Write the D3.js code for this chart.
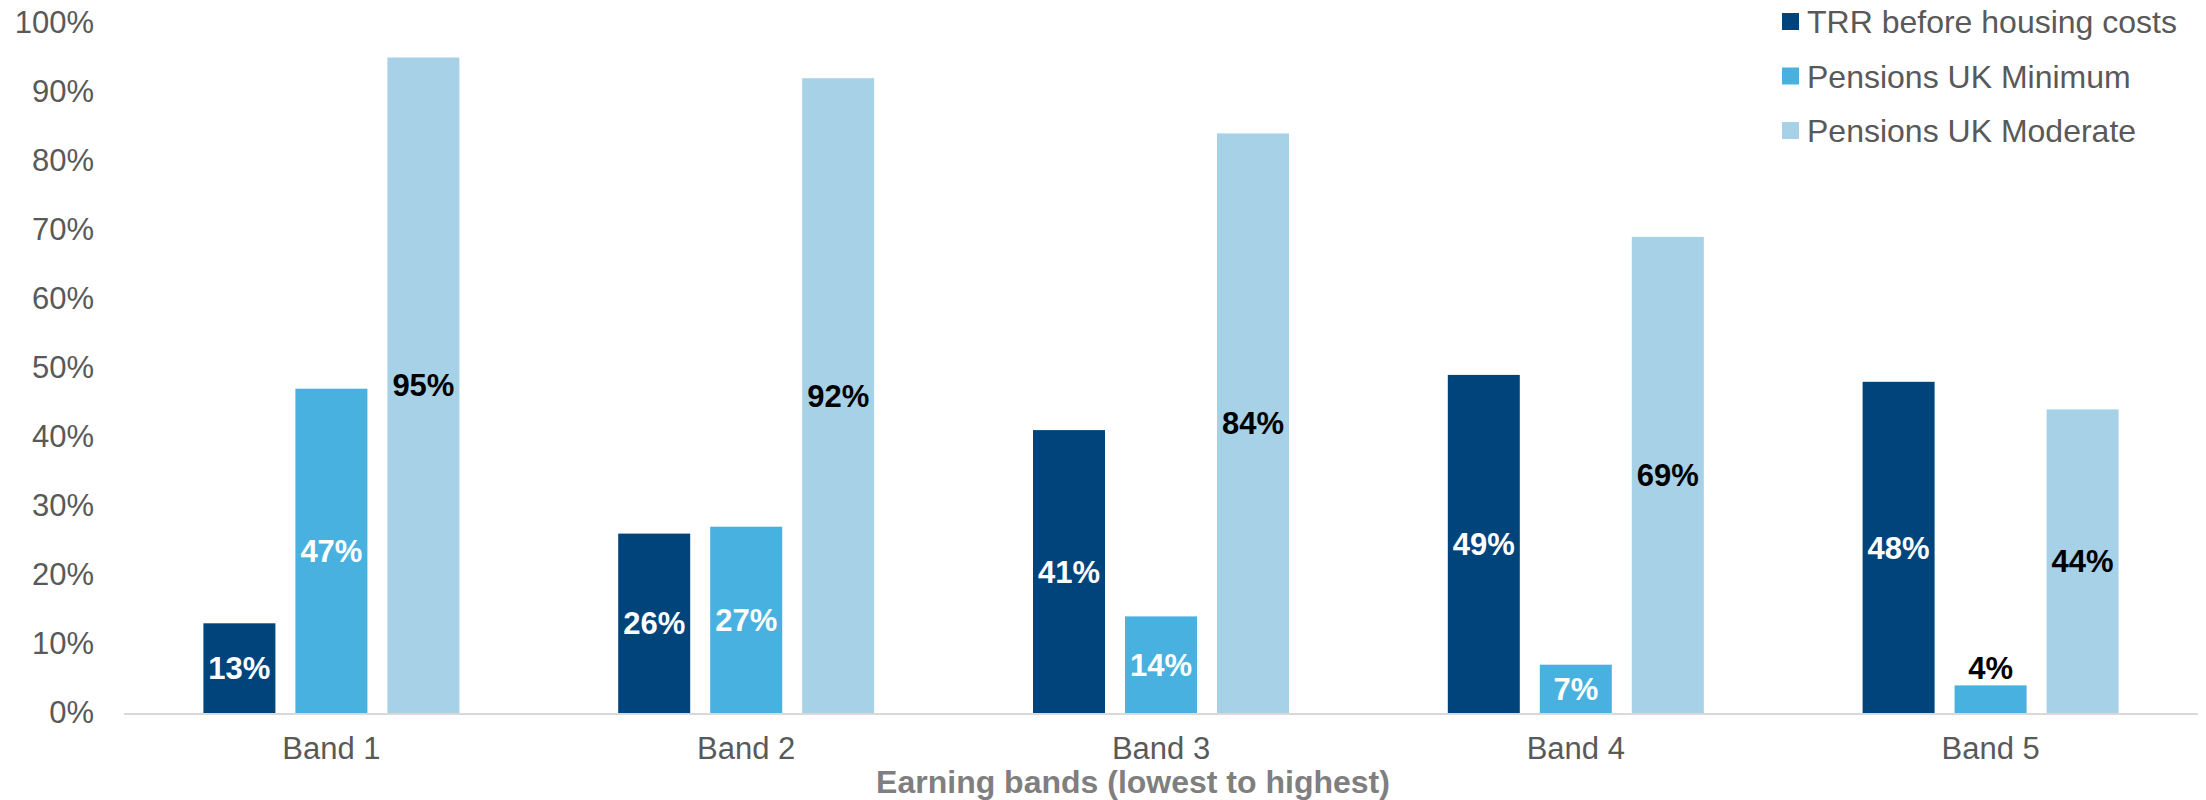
<!DOCTYPE html>
<html>
<head>
<meta charset="utf-8">
<script src="https://cdn.jsdelivr.net/npm/d3@7"></script>
<style>
  html, body { margin: 0; padding: 0; background: #fff; }
  svg { display: block; font-family: "Liberation Sans", Arial, sans-serif; }
</style>
</head>
<body>
<svg id="chart" width="2206" height="800"></svg>
<script>
// Earning bands and the three replacement-rate measures
const categories = ["Band 1", "Band 2", "Band 3", "Band 4", "Band 5"];
const seriesNames = ["TRR before housing costs", "Pensions UK Minimum", "Pensions UK Moderate"];
const trrBeforeHousing = [0.13, 0.26, 0.41, 0.49, 0.48];
const pensionsUkMinimum = [0.47, 0.27, 0.14, 0.07, 0.04];
const pensionsUkModerate = [0.95, 0.92, 0.84, 0.69, 0.44];
const yTicks = [0, 0.1, 0.2, 0.3, 0.4, 0.5, 0.6, 0.7, 0.8, 0.9, 1.0];
const axisTitle = "Earning bands (lowest to highest)";

const colors = ["#00447C", "#48B1E0", "#A6D1E7"];
const labelColors = ["#FFFFFF", "#FFFFFF", "#000000"];
const seriesValues = [trrBeforeHousing, pensionsUkMinimum, pensionsUkModerate];

const svg = d3.select("#chart");
const plotLeft = 124, plotRight = 2198, plotBase = 713, plotTop = 23;
const fontSize = 31;

const x0 = d3.scaleBand().domain(categories).range([plotLeft, plotRight]).padding(0);
const x1 = d3.scaleBand().domain(seriesNames).range([0, x0.bandwidth()])
  .paddingInner(0.2174).paddingOuter(0.863);
const y = d3.scaleLinear().domain([0, 1]).range([plotBase, plotTop]);
const pct = d3.format(".0%");

// Y axis (labels only)
const yAxis = svg.append("g")
  .attr("transform", "translate(94,0)")
  .call(d3.axisLeft(y).tickValues(yTicks).tickFormat(pct).tickSize(0).tickPadding(0));
yAxis.select(".domain").remove();
yAxis.selectAll("text")
  .attr("font-family", "'Liberation Sans', Arial, sans-serif")
  .attr("font-size", fontSize)
  .attr("fill", "#595959");

// Grouped bars
const rows = categories.map((c, i) => ({
  category: c,
  values: seriesNames.map((s, k) => ({ series: s, k, value: seriesValues[k][i] }))
}));

const groups = svg.append("g").selectAll("g")
  .data(rows).join("g")
  .attr("transform", d => `translate(${x0(d.category)},0)`);

groups.selectAll("rect")
  .data(d => d.values).join("rect")
  .attr("x", d => x1(d.series))
  .attr("y", d => y(d.value))
  .attr("width", x1.bandwidth())
  .attr("height", d => y(0) - y(d.value))
  .attr("fill", d => colors[d.k]);

// Value labels: centred in the bar, or just above when the bar is too short
const isShort = d => (y(0) - y(d.value)) < 36;
groups.selectAll("text")
  .data(d => d.values).join("text")
  .attr("x", d => x1(d.series) + x1.bandwidth() / 2)
  .attr("y", d => isShort(d) ? y(d.value) - 6 : (y(d.value) + y(0)) / 2 + fontSize * 0.36)
  .attr("text-anchor", "middle")
  .attr("font-size", fontSize)
  .attr("font-weight", "bold")
  .attr("fill", d => isShort(d) ? "#000000" : labelColors[d.k])
  .text(d => pct(d.value));

// Baseline
svg.append("line")
  .attr("x1", plotLeft).attr("x2", plotRight)
  .attr("y1", plotBase + 1).attr("y2", plotBase + 1)
  .attr("stroke", "#D9D9D9").attr("stroke-width", 2);

// X axis labels
const xAxis = svg.append("g")
  .attr("transform", `translate(0,${plotBase})`)
  .call(d3.axisBottom(x0).tickSize(0).tickPadding(24));
xAxis.select(".domain").remove();
xAxis.selectAll("text")
  .attr("font-family", "'Liberation Sans', Arial, sans-serif")
  .attr("font-size", fontSize)
  .attr("fill", "#595959");

// Axis title
svg.append("text")
  .attr("x", 1133).attr("y", 793)
  .attr("text-anchor", "middle")
  .attr("font-size", 32)
  .attr("font-weight", "bold")
  .attr("fill", "#7F7F7F")
  .text(axisTitle);

// Legend
const legend = svg.append("g").attr("transform", "translate(1782,0)");
const legendRows = legend.selectAll("g")
  .data(seriesNames).join("g")
  .attr("transform", (d, i) => `translate(0,${21.5 + i * 54.5})`);
legendRows.append("rect")
  .attr("x", 0).attr("y", -8.5).attr("width", 17).attr("height", 17)
  .attr("fill", (d, i) => colors[i]);
legendRows.append("text")
  .attr("x", 25).attr("y", 32 * 0.36)
  .attr("font-size", 32)
  .attr("fill", "#595959")
  .text(d => d);
</script>
</body>
</html>
